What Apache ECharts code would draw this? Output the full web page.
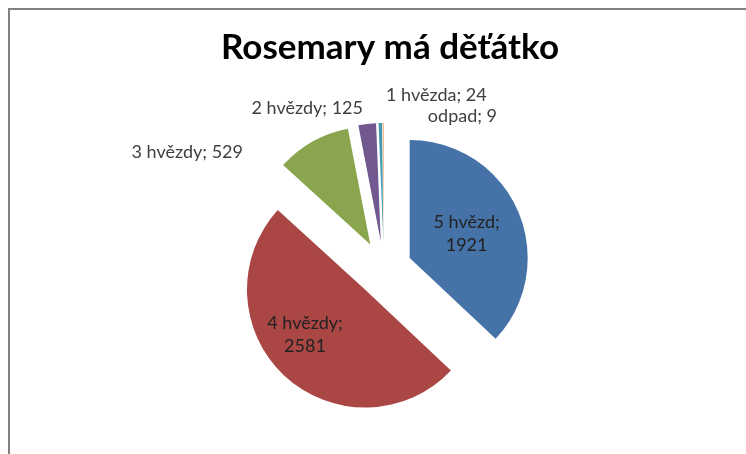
<!DOCTYPE html>
<html>
<head>
<meta charset="utf-8">
<script src="https://cdn.jsdelivr.net/npm/echarts@6/dist/echarts.min.js"></script>
<style>
  html, body { margin: 0; padding: 0; background: #fff; }
  #frame { position: absolute; left: 8px; top: 8px; width: 740px; height: 450px;
           border-left: 2px solid #808080; border-top: 2px solid #808080; }
  #chart { position: absolute; left: 0; top: 0; width: 746px; height: 454px; }
</style>
</head>
<body>
<div id="frame"></div>
<div id="chart"></div>
<script>
// hodnocení filmu
const names = ['5 hvězd', '4 hvězdy', '3 hvězdy', '2 hvězdy', '1 hvězda', 'odpad'];
const counts = [1921, 2581, 529, 125, 24, 9];
const colors = ['#4572A7', '#AA4643', '#89A54E', '#71588F', '#4198AF', '#F0B88A'];

// kde leží popisky (Excel "best fit"), kromě modré výseče
const labelSpots = {
    1: { x: 305, y: 335, align: 'center' },
    2: { x: 243, y: 152, align: 'right' },
    3: { x: 363, y: 108, align: 'right' },
    4: { x: 386, y: 95, align: 'left' },
    5: { x: 497, y: 116, align: 'right' }
};

const labelFont = {
    fontFamily: 'Lato',
    fontSize: 18,
    lineHeight: 23,
    color: '#404040'
};

let charts = echarts.init(document.getElementById('chart'));
charts.setOption({
    animation: false,
    title: {
        text: 'Rosemary má děťátko',
        left: 216,
        top: 25,
        textStyle: {
            fontFamily: 'Lato',
            fontWeight: 'bold',
            fontSize: 35,
            color: '#000'
        }
    },
    color: colors,
    series: [
        {
            // výseče, všechny vysunuté
            type: 'pie',
            radius: [0, 118],
            center: [384, 269],
            startAngle: 90,
            selectedMode: 'multiple',
            selectedOffset: 28,
            emphasis: { disabled: true },
            itemStyle: { borderWidth: 0 },
            label: Object.assign({ show: false }, labelFont),
            labelLine: { show: false },
            data: names.map((n, i) => {
                const item = { name: n, value: counts[i], selected: true };
                if (i === 0) {
                    item.label = { show: true, position: 'inner', formatter: '{b};\n{c}', color: '#222' };
                }
                return item;
            })
        },
        {
            // jen popisky
            type: 'pie',
            radius: [0, 118],
            center: [384, 269],
            startAngle: 90,
            silent: true,
            emphasis: { disabled: true },
            itemStyle: { color: 'rgba(0,0,0,0)', borderWidth: 0 },
            label: Object.assign({ show: true, position: 'outside', formatter: '{b}; {c}' }, labelFont),
            labelLine: { show: false },
            labelLayout: function (p) {
                const s = labelSpots[p.dataIndex];
                if (!s) return {};
                return { x: s.x, y: s.y, align: s.align, verticalAlign: 'middle' };
            },
            data: names.map((n, i) => {
                const item = { name: n, value: counts[i] };
                if (i === 0) item.label = { show: false };
                if (i === 1) item.label = { formatter: '{b};\n{c}', color: '#222' };
                return item;
            })
        }
    ]
});
</script>
</body>
</html>
